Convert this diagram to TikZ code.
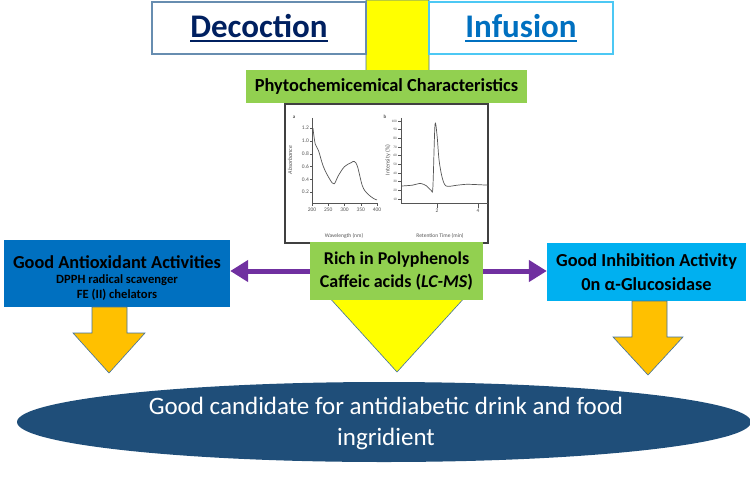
\documentclass[tikz,border=0pt]{standalone}
\usepackage{fontspec}
\setmainfont{Carlito}
\usepackage{tikz}
\usetikzlibrary{arrows.meta,shapes.geometric,positioning}
\usepackage{xcolor}
\definecolor{arrowyellow}{HTML}{FFFF00}
\definecolor{arroworange}{HTML}{FFC000}
\definecolor{arrowedge}{HTML}{41719C}
\definecolor{boxgreen}{HTML}{92D050}
\definecolor{boxblue}{HTML}{0070C0}
\definecolor{boxcyan}{HTML}{00B0F0}
\definecolor{linkpurple}{HTML}{7030A0}
\definecolor{goalblue}{HTML}{1F4E79}
\definecolor{decnavy}{HTML}{002060}
\definecolor{plotgray}{HTML}{555555}
\newcommand{\headul}[1]{\setbox0\hbox{#1}\rlap{\rule[-4.5pt]{\wd0}{1.8pt}}\box0}
\newcommand{\fs}[1]{\fontsize{#1}{#1}\selectfont}

\begin{document}
\begin{tikzpicture}[x=1pt,y=-1pt,
  headbox/.style={draw=#1, line width=1.2, fill=white, minimum width=214,
    minimum height=52, font=\bfseries\fs{33}},
  greenbox/.style={fill=boxgreen, inner sep=0, align=center},
  bluebox/.style={fill=#1, inner sep=0, align=center},
  blockarrow/.style={fill=#1, draw=arrowedge, line width=0.6},
  purplelink/.style={line width=5, draw=linkpurple,
    -{Triangle[length=18pt,width=21pt]}},
  ticklbl/.style={font=\fs{5.5}, text=plotgray, inner sep=1}]
  \useasboundingbox (0,0) rectangle (750,499);

  % big yellow arrow
  \draw[blockarrow=arrowyellow] (366,0) -- (429,0) -- (429,285) -- (476,285)
    -- (397,372) -- (318,285) -- (366,285) -- cycle;

  % headers
  \node[headbox={arrowedge!80}, text=decnavy] (decoction) at (259,28) {\headul{Decoction}};
  \node[headbox={boxcyan!70}, minimum width=184, text=boxblue] (infusion) at (521,28) {\headul{Infusion}};

  \node[greenbox, minimum width=281, minimum height=33, font=\bfseries\fs{18.4}] (phyto) at (386.5,86)
    {Phytochemicemical Characteristics};

  % charts
  \node[draw=black!75, line width=1.2, fill=white, minimum width=203, minimum height=139] (charts) at (386.5,173.5) {};

  \begin{scope}[shift={(312,205)},x=0.325pt,y=64pt,plotgray]
    \draw[line width=0.7] (0,1.36) -- (0,0.03) -- (200,0.03);
    \foreach \v in {0.2,0.4,0.6,0.8,1.0,1.2}
      \draw[line width=0.4] (0,\v) -- (-6,\v) node[ticklbl,left] {\v};
    \foreach \w in {0,50,...,200} {
      \pgfmathtruncatemacro{\lbl}{\w+200}
      \draw[line width=0.4] (\w,0.03) -- (\w,-0.02) node[ticklbl,below] {\lbl};
    }
    \draw[line width=0.7] plot[smooth,tension=0.6] coordinates {(3,1.2) (10,0.95) (20,0.85) (35,0.6)
      (55,0.4) (68,0.33) (80,0.45) (100,0.6) (120,0.66) (130,0.68) (140,0.6) (155,0.3)
      (170,0.18) (190,0.1) (200,0.08)};
  \end{scope}
  \begin{scope}[shift={(396,207.7)},x=20.5pt,y=0.867pt,plotgray]
    \draw[line width=0.7] (0.24,103.5) -- (0.24,5.4) -- (4.49,5.4);
    \foreach \v in {10,20,...,100}
      \draw[line width=0.4] (0.24,\v) -- (0.1,\v) node[ticklbl,left,font=\fs{3.5}] {\v};
    \foreach \t in {2,4}
      \draw[line width=0.4] (\t,5.4) -- (\t,0) node[ticklbl,below] {\t};
    \draw[line width=0.7] plot[smooth,tension=0.5] coordinates {(0.26,25) (0.8,26) (1.2,28) (1.5,25)
      (1.72,20) (1.8,24) (1.9,95) (2.0,84) (2.1,55) (2.25,35) (2.45,25) (3,26) (3.5,27) (4.49,26)};
  \end{scope}
  \node[font=\bfseries\fs{5}, text=plotgray] (pa) at (294,117) {a};
  \node[font=\bfseries\fs{5}, text=plotgray] (pb) at (385,117) {b};
  \node[rotate=90, font=\itshape\fs{6}, text=plotgray] (absorb) at (290,160) {Absorbance};
  \node[rotate=90, font=\fs{6}, text=plotgray] (intens) at (388,160) {Intensity (\%)};
  \node[font=\fs{5.5}, text=plotgray] (wave) at (344,236) {Wavelength (nm)};
  \node[font=\fs{5.5}, text=plotgray] (rtime) at (440,236) {Retention Time (min)};

  % findings
  \node[greenbox, minimum width=173, minimum height=58, font=\bfseries\fs{18}] (rich) at (396.5,271)
    {Rich in Polyphenols\\[5pt] Caffeic acids (\textit{LC-MS})};
  \node[bluebox=boxblue, minimum width=226, minimum height=67] (antiox) at (117,273.5)
    {\rule{0pt}{21pt}{\bfseries\fs{18.3}Good Antioxidant Activities}\\[3pt]
     {\bfseries\fs{12.6}DPPH radical scavenger}\\[3pt] {\bfseries\fs{12.6}FE (II) chelators}};
  \node[bluebox=boxcyan, minimum width=199, minimum height=58, font=\bfseries\fs{18.3}] (inhib) at (646.5,272)
    {Good Inhibition Activity\\[5pt] 0n α-Glucosidase};

  \draw[purplelink] (rich.west) -- (rich.west -| antiox.east);
  \draw[purplelink] (rich.east) -- (rich.east -| inhib.west);

  % orange arrows
  \draw[blockarrow=arroworange] (92,307) -- (127,307) -- (127,333) -- (145,333) -- (109,373)
    -- (73,333) -- (92,333) -- cycle;
  \draw[blockarrow=arroworange] (632,301) -- (667,301) -- (667,337) -- (683,337) -- (648,375)
    -- (613,337) -- (632,337) -- cycle;

  % goal
  \fill[goalblue] (384,422) ellipse (367 and 40);
  \node[text=white, align=center, font=\fs{25}] (goal) at (386,423)
    {Good candidate for antidiabetic drink and food\\[6pt] ingridient};
\end{tikzpicture}
\end{document}
